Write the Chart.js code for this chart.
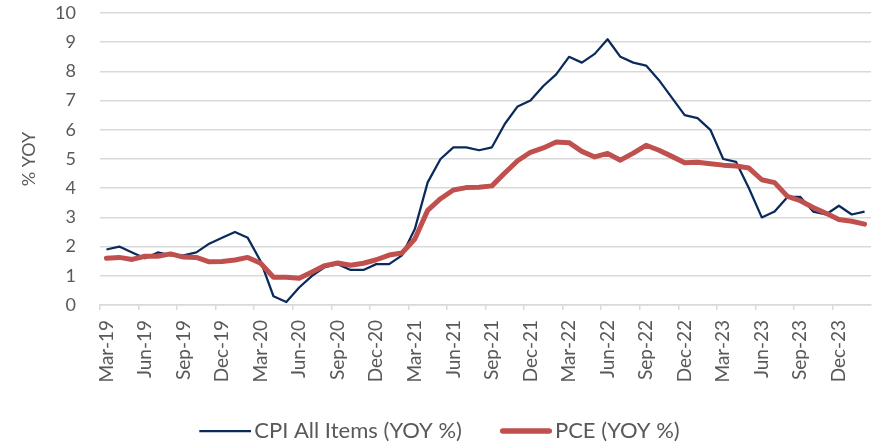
<!DOCTYPE html>
<html>
<head>
<meta charset="utf-8">
<script src="https://cdn.jsdelivr.net/npm/chart.js@4.4.1/dist/chart.umd.min.js"></script>
<style>
  html, body { margin: 0; padding: 0; background: #ffffff; }
  #wrap { width: 875px; height: 446px; position: relative; }
</style>
</head>
<body>
<div id="wrap"><canvas id="c"></canvas></div>
<script>
// ---- Data ----
const categories = [
  'Mar-19','Apr-19','May-19','Jun-19','Jul-19','Aug-19','Sep-19','Oct-19','Nov-19','Dec-19',
  'Jan-20','Feb-20','Mar-20','Apr-20','May-20','Jun-20','Jul-20','Aug-20','Sep-20','Oct-20','Nov-20','Dec-20',
  'Jan-21','Feb-21','Mar-21','Apr-21','May-21','Jun-21','Jul-21','Aug-21','Sep-21','Oct-21','Nov-21','Dec-21',
  'Jan-22','Feb-22','Mar-22','Apr-22','May-22','Jun-22','Jul-22','Aug-22','Sep-22','Oct-22','Nov-22','Dec-22',
  'Jan-23','Feb-23','Mar-23','Apr-23','May-23','Jun-23','Jul-23','Aug-23','Sep-23','Oct-23','Nov-23','Dec-23',
  'Jan-24','Feb-24'
];

const cpiValues = [
  1.9, 2.0, 1.8, 1.6, 1.8, 1.7, 1.7, 1.8, 2.1, 2.3,
  2.5, 2.3, 1.5, 0.3, 0.1, 0.6, 1.0, 1.3, 1.4, 1.2, 1.2, 1.4,
  1.4, 1.7, 2.6, 4.2, 5.0, 5.4, 5.4, 5.3, 5.4, 6.2, 6.8, 7.0,
  7.5, 7.9, 8.5, 8.3, 8.6, 9.1, 8.5, 8.3, 8.2, 7.7, 7.1, 6.5,
  6.4, 6.0, 5.0, 4.9, 4.0, 3.0, 3.2, 3.7, 3.7, 3.2, 3.1, 3.4,
  3.1, 3.2
];

const pceValues = [
  1.60, 1.63, 1.56, 1.67, 1.67, 1.75, 1.64, 1.63, 1.48, 1.49,
  1.54, 1.63, 1.43, 0.95, 0.95, 0.92, 1.13, 1.35, 1.44, 1.36, 1.43, 1.55,
  1.71, 1.78, 2.26, 3.24, 3.64, 3.94, 4.02, 4.03, 4.08, 4.52, 4.94, 5.23,
  5.38, 5.58, 5.56, 5.26, 5.07, 5.19, 4.96, 5.20, 5.47, 5.30, 5.09, 4.87,
  4.89, 4.84, 4.79, 4.76, 4.69, 4.29, 4.19, 3.72, 3.57, 3.34, 3.14, 2.93,
  2.87, 2.77
];

const seriesNames = ['CPI All Items (YOY %)', 'PCE (YOY %)'];
const yTickValues = [0, 1, 2, 3, 4, 5, 6, 7, 8, 9, 10];
const yAxisTitle = '% YOY';

// ---- Chart ----
const TEXT = '#595959';
const GRID = '#d9d9d9';
const FONT = 'Lato';
const CPI_COLOR = '#0B2A5C';
const PCE_COLOR = '#C0504D';

// Legend symbol: a line sitting close to its label text
function legendLine(color, width, round) {
  const box = 52, shift = 8;
  const c = document.createElement('canvas');
  c.width = box + 2 * shift;
  c.height = 12;
  const g = c.getContext('2d');
  g.strokeStyle = color;
  g.lineWidth = width;
  g.lineCap = round ? 'round' : 'butt';
  const inset = round ? width / 2 : 0;
  g.beginPath();
  g.moveTo(2 * shift + inset, c.height / 2);
  g.lineTo(c.width - inset, c.height / 2);
  g.stroke();
  return c;
}

new Chart(document.getElementById('c'), {
  type: 'line',
  data: {
    labels: categories,
    datasets: [
      {
        label: seriesNames[0],
        data: cpiValues,
        borderColor: CPI_COLOR,
        backgroundColor: CPI_COLOR,
        borderWidth: 2.25,
        pointRadius: 0,
        pointStyle: legendLine(CPI_COLOR, 2.25, false),
        tension: 0,
        borderJoinStyle: 'round',
        order: 1
      },
      {
        label: seriesNames[1],
        data: pceValues,
        borderColor: PCE_COLOR,
        backgroundColor: PCE_COLOR,
        borderWidth: 5,
        pointRadius: 0,
        pointStyle: legendLine(PCE_COLOR, 5.5, true),
        tension: 0,
        borderJoinStyle: 'round',
        borderCapStyle: 'round',
        order: 0
      }
    ]
  },
  options: {
    responsive: true,
    maintainAspectRatio: false,
    animation: false,
    events: [],
    layout: { padding: { top: 13, right: 4, left: 0, bottom: 0 } },
    plugins: {
      tooltip: { enabled: false },
      legend: {
        display: true,
        position: 'bottom',
        maxHeight: 56,
        labels: {
          usePointStyle: true,
          pointStyleWidth: 52,
          padding: 30,
          color: TEXT,
          font: { family: FONT, size: 22 },
          sort: (a, b) => a.datasetIndex - b.datasetIndex
        }
      }
    },
    scales: {
      x: {
        offset: true,
        afterFit: (s) => { s.height = 85; s.paddingLeft = 0; s.paddingRight = 0; },
        grid: {
          offset: true,
          drawOnChartArea: false,
          drawTicks: true,
          tickLength: 5,
          lineWidth: 1.5,
          color: (ctx) => (ctx.index % 3 === 0 ? GRID : 'rgba(0,0,0,0)')
        },
        border: { display: true, color: GRID, width: 1.5 },
        ticks: {
          autoSkip: false,
          minRotation: 90,
          maxRotation: 90,
          padding: 10,
          color: TEXT,
          font: { family: FONT, size: 19 },
          callback: (v, i) => (i % 3 === 0 ? categories[i] : '')
        }
      },
      y: {
        min: yTickValues[0],
        max: yTickValues[yTickValues.length - 1],
        afterFit: (s) => { s.width = 100; s.paddingTop = 0; s.paddingBottom = 0; },
        afterBuildTicks: (s) => { s.ticks = yTickValues.map(v => ({ value: v })); },
        grid: { color: GRID, lineWidth: 1.5, drawTicks: false },
        border: { display: false },
        ticks: {
          padding: 24,
          color: TEXT,
          font: { family: FONT, size: 18 }
        },
        title: {
          display: true,
          text: yAxisTitle,
          color: TEXT,
          font: { family: FONT, size: 18 },
          padding: { top: 18, bottom: 0 }
        }
      }
    }
  }
});
</script>
</body>
</html>
